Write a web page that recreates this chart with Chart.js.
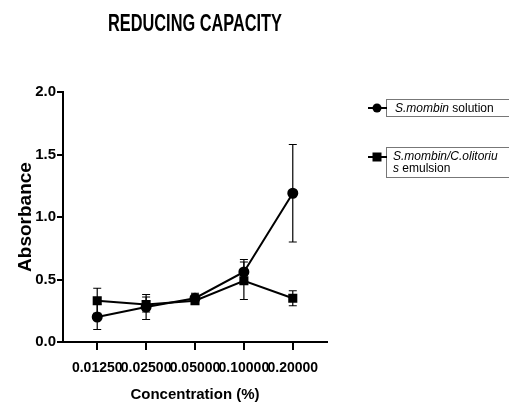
<!DOCTYPE html>
<html>
<head>
<meta charset="utf-8">
<script src="https://cdn.jsdelivr.net/npm/chart.js@4.4.1/dist/chart.umd.min.js"></script>
<style>
  html, body { margin: 0; padding: 0; background: #fff; }
  #wrap { width: 509px; height: 408px; }
</style>
</head>
<body>
<div id="wrap"><canvas id="chart" width="509" height="408"></canvas></div>
<script>
// Data
const concentrations = ['0.01250', '0.02500', '0.05000', '0.10000', '0.20000'];
const solutionValues = [0.20, 0.28, 0.35, 0.56, 1.19];
const solutionErrors = [0.10, 0.10, 0.04, 0.10, 0.39];
const emulsionValues = [0.33, 0.30, 0.33, 0.49, 0.35];
const emulsionErrors = [0.10, 0.06, 0.03, 0.15, 0.06];
const yTicks = [0, 0.5, 1.0, 1.5, 2.0];

const sans = "'Liberation Sans', Arial, sans-serif";

function toPoints(values) {
    return values.map((v, i) => ({ x: i, y: v }));
}

// Error bars drawn from the chart's own scales
const errorBars = {
    id: 'errorBars',
    afterDatasetsDraw(chart) {
        const ctx = chart.ctx;
        const xs = chart.scales.x;
        const ys = chart.scales.y;
        const sets = [solutionErrors, emulsionErrors];
        ctx.save();
        ctx.strokeStyle = '#000';
        ctx.lineWidth = 1.2;
        chart.data.datasets.forEach((ds, d) => {
            ds.data.forEach((p, i) => {
                const err = sets[d][i];
                const x = xs.getPixelForValue(p.x);
                const top = ys.getPixelForValue(p.y + err);
                const bot = ys.getPixelForValue(p.y - err);
                ctx.beginPath();
                ctx.moveTo(x, top); ctx.lineTo(x, bot);
                ctx.moveTo(x - 4, top); ctx.lineTo(x + 4, top);
                ctx.moveTo(x - 4, bot); ctx.lineTo(x + 4, bot);
                ctx.stroke();
            });
        });
        ctx.restore();
    }
};

// Title and boxed legend on the right
const decorations = {
    id: 'decorations',
    afterDraw(chart) {
        const ctx = chart.ctx;
        const area = chart.chartArea;
        ctx.save();
        ctx.fillStyle = '#000';
        ctx.textAlign = 'center';
        ctx.textBaseline = 'middle';

        // condensed-looking title
        ctx.save();
        ctx.translate((area.left + area.right) / 2, 25);
        ctx.scale(0.71, 1);
        ctx.font = 'bold 23px ' + sans;
        ctx.fillText('REDUCING CAPACITY', 0, 0);
        ctx.restore();

        function marker(style, cx, cy) {
            ctx.strokeStyle = '#000';
            ctx.lineWidth = 2;
            ctx.beginPath();
            ctx.moveTo(cx - 9, cy); ctx.lineTo(cx + 10, cy);
            ctx.stroke();
            ctx.beginPath();
            if (style === 'circle') {
                ctx.arc(cx, cy, 4.5, 0, Math.PI * 2);
            } else {
                ctx.rect(cx - 4.5, cy - 4.5, 9, 9);
            }
            ctx.fill();
        }

        function runs(parts, x, y) {
            ctx.textAlign = 'left';
            parts.forEach(([txt, italic]) => {
                ctx.font = (italic ? 'italic ' : '') + '12px ' + sans;
                ctx.fillText(txt, x, y);
                x += ctx.measureText(txt).width;
            });
        }

        ctx.strokeStyle = '#777';
        ctx.lineWidth = 1;
        ctx.strokeRect(386.5, 99.5, 130, 17);
        marker('circle', 377, 108);
        runs([['S.mombin', true], [' solution', false]], 395, 108.5);

        ctx.strokeStyle = '#777';
        ctx.lineWidth = 1;
        ctx.strokeRect(386.5, 147.5, 130, 30);
        marker('rect', 377, 157);
        runs([['S.mombin/C.olitoriu', true]], 393, 157);
        runs([['s', true], [' emulsion', false]], 393, 169);
        ctx.restore();
    }
};

new Chart(document.getElementById('chart'), {
    type: 'line',
    data: {
        datasets: [
            {
                label: 'S.mombin solution',
                data: toPoints(solutionValues),
                borderColor: '#000',
                backgroundColor: '#000',
                borderWidth: 2,
                pointStyle: 'circle',
                pointRadius: 4.5,
                fill: false,
            },
            {
                label: 'S.mombin/C.olitorius emulsion',
                data: toPoints(emulsionValues),
                borderColor: '#000',
                backgroundColor: '#000',
                borderWidth: 2,
                pointStyle: 'rect',
                pointRadius: 5,
                fill: false,
            },
        ],
    },
    options: {
        responsive: false,
        animation: false,
        layout: { padding: { top: 92, right: 182, left: 0, bottom: 0 } },
        plugins: {
            legend: { display: false },
            tooltip: { enabled: false },
        },
        scales: {
            x: {
                type: 'linear',
                min: -0.7,
                max: 4.7,
                afterBuildTicks: scale => {
                    scale.ticks = concentrations.map((c, i) => ({ value: i }));
                },
                afterFit: scale => { scale.height = 66; },
                grid: { drawOnChartArea: false, drawTicks: true, tickLength: 8, color: '#000', lineWidth: 2 },
                border: { display: true, color: '#000', width: 2 },
                ticks: {
                    autoSkip: false,
                    maxRotation: 0,
                    padding: 10,
                    color: '#000',
                    font: { family: sans, size: 14, weight: 'bold' },
                    callback: v => concentrations[v],
                },
                title: {
                    display: true,
                    text: 'Concentration (%)',
                    color: '#000',
                    font: { family: sans, size: 15, weight: 'bold' },
                    padding: { top: 0, bottom: 4 },
                },
            },
            y: {
                min: 0,
                max: 2,
                afterBuildTicks: scale => {
                    scale.ticks = yTicks.map(v => ({ value: v }));
                },
                afterFit: scale => { scale.width = 63; },
                grid: { drawOnChartArea: false, drawTicks: true, tickLength: 6, color: '#000', lineWidth: 2 },
                border: { display: true, color: '#000', width: 2 },
                ticks: {
                    padding: 1,
                    color: '#000',
                    font: { family: sans, size: 15, weight: 'bold' },
                    callback: v => v.toFixed(1),
                },
                title: {
                    display: true,
                    text: 'Absorbance',
                    color: '#000',
                    font: { family: sans, size: 19, weight: 'bold' },
                    padding: { top: 14, bottom: 0 },
                },
            },
        },
    },
    plugins: [errorBars, decorations],
});
</script>
</body>
</html>
